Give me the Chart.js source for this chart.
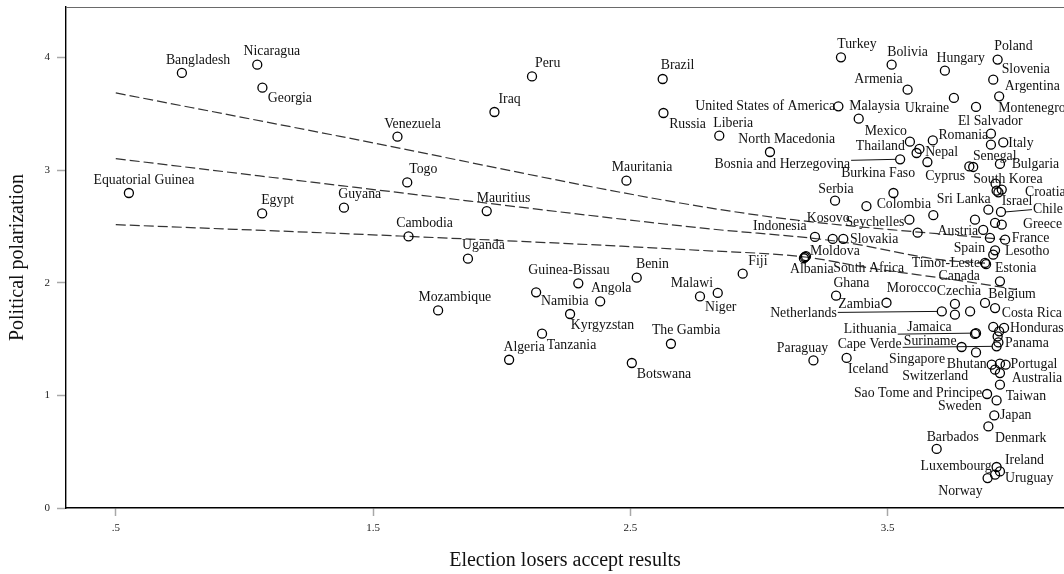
<!DOCTYPE html>
<html><head><meta charset="utf-8">
<script src="https://cdn.jsdelivr.net/npm/chart.js@4.4.1/dist/chart.umd.min.js"></script>
<style>html,body{margin:0;padding:0;background:#fff;overflow:hidden}#wrap{width:1064px;height:574px}canvas{display:block}</style>
</head><body><div id="wrap"><canvas id="c" width="1064" height="574"></canvas></div>
<script>
const countries = ['Bangladesh','Nicaragua','Georgia','Equatorial Guinea','Egypt','Guyana','Peru','Brazil','Iraq','Russia',
'Venezuela','Togo','Mauritania','Mauritius','Cambodia','Uganda','Benin','Guinea-Bissau','Angola','Namibia',
'Mozambique','Kyrgyzstan','Tanzania','Algeria','The Gambia','Botswana','Malawi','Niger','Fiji','Turkey',
'Bolivia','Hungary','Poland','Slovenia','Armenia','Argentina','Ukraine','Montenegro','United States of America','Malaysia',
'Liberia','North Macedonia','Bosnia and Herzegovina','Mexico','Thailand','Nepal','Romania','Burkina Faso','Cyprus','Senegal',
'El Salvador','','Italy','Bulgaria','South Korea','','Croatia','','Serbia','',
'Colombia','Sri Lanka','Israel','Chile','','','Greece','Seychelles','','Austria',
'','France','Indonesia','Kosovo','Slovakia','Spain','Lesotho','Moldova','Albania','South Africa',
'Timor-Leste','Estonia','Canada','Ghana','Zambia','Netherlands','Morocco','','Czechia','Belgium',
'Costa Rica','','Honduras','','','Lithuania','Jamaica','Panama','Cape Verde','Suriname',
'Singapore','Paraguay','Iceland','Bhutan','','Portugal','Switzerland','Australia','Taiwan','Sao Tome and Principe',
'Sweden','Japan','Denmark','Barbados','Luxembourg','Ireland','Uruguay','Norway'];

const acceptResults = [0.757,1.050,1.070,0.551,1.069,1.387,2.118,2.626,1.972,2.629,
1.595,1.633,2.485,1.942,1.638,1.869,2.525,2.298,2.383,2.134,
1.753,2.266,2.157,2.029,2.658,2.506,2.771,2.840,2.937,3.319,
3.516,3.723,3.928,3.911,3.578,3.934,3.758,3.844,3.309,3.388,
2.846,3.043,3.549,3.587,3.613,3.624,3.676,3.655,3.818,3.833,
3.902,3.902,3.950,3.937,3.920,3.924,3.944,3.931,3.296,3.523,
3.418,3.678,3.892,3.941,3.840,3.918,3.944,3.585,3.617,3.872,
3.898,3.957,3.218,3.287,3.328,3.918,3.911,3.179,3.175,3.183,
3.879,3.883,3.937,3.300,3.496,3.711,3.762,3.762,3.821,3.879,
3.918,3.911,3.953,3.934,3.928,3.844,3.840,3.931,3.924,3.788,
3.844,3.212,3.341,3.905,3.937,3.959,3.918,3.937,3.937,3.887,
3.924,3.915,3.892,3.691,3.924,3.937,3.918,3.889];

const polarization = [3.862,3.935,3.731,2.796,2.615,2.666,3.831,3.808,3.515,3.506,
3.296,2.890,2.905,2.636,2.411,2.213,2.044,1.994,1.834,1.914,
1.754,1.722,1.547,1.316,1.458,1.287,1.878,1.909,2.080,4.000,
3.935,3.882,3.980,3.802,3.713,3.654,3.640,3.560,3.565,3.456,
3.305,3.160,3.095,3.252,3.151,3.187,3.263,3.071,3.032,3.027,
3.323,3.225,3.245,3.054,2.879,2.817,2.826,2.802,2.728,2.796,
2.679,2.599,2.648,2.628,2.559,2.530,2.515,2.559,2.444,2.468,
2.397,2.382,2.406,2.388,2.388,2.287,2.249,2.228,2.217,2.235,
2.175,2.164,2.012,1.885,1.822,1.745,1.811,1.716,1.745,1.820,
1.775,1.607,1.598,1.568,1.523,1.552,1.545,1.470,1.435,1.429,
1.381,1.310,1.332,1.272,1.281,1.272,1.228,1.198,1.095,1.012,
0.955,0.822,0.724,0.524,0.364,0.325,0.296,0.266];

const xTickValues = [0.5,1.5,2.5,3.5];
const xTickLabels = ['.5','1.5','2.5','3.5'];
const yTickValues = [0,1,2,3,4];

const upperFitX = [0.5,1.372,2.694,3.133,3.957];
const upperFitY = [3.684,3.299,2.707,2.559,2.382];
const middleFitX = [0.5,1.450,2.773,3.315,3.704,3.879];
const middleFitY = [3.101,2.841,2.486,2.364,2.204,2.173];
const lowerFitX = [0.5,1.637,2.771,3.179,3.432,3.782,4.003];
const lowerFitY = [2.515,2.411,2.287,2.228,2.130,2.018,1.938];

// label placement: [dx px, dy px, anchor ('l' left edge / 'r' right edge), leader]
const labelPlacement = {
'Bangladesh':[-16,-13,'l'],'Nicaragua':[-13.7,-13.3,'l'],'Georgia':[5.4,11,'l'],'Equatorial Guinea':[-35.4,-13,'l'],
'Egypt':[-1,-12.7,'l'],'Guyana':[-5.7,-13,'l'],'Peru':[3,-13.4,'l'],'Brazil':[-2,-13.3,'l'],'Iraq':[4,-13,'l'],
'Russia':[5.7,11.7,'l'],'Venezuela':[-13.3,-12.7,'l'],'Togo':[2,-13.4,'l'],'Mauritania':[-14.6,-13.3,'l'],
'Mauritius':[-10,-13,'l'],'Cambodia':[-12.3,-13.4,'l'],'Uganda':[-6,-13,'l'],'Benin':[-0.7,-13,'l'],
'Guinea-Bissau':[-50,-13,'l'],'Angola':[-9.3,-13.4,'l'],'Namibia':[5,9.3,'l'],'Mozambique':[-19.7,-13.4,'l'],
'Kyrgyzstan':[0.7,11.7,'l'],'Tanzania':[4.7,12,'l'],'Algeria':[-5.7,-12.7,'l'],'The Gambia':[-19,-13,'l'],
'Botswana':[5,11.7,'l'],'Malawi':[13,-13.4,'r'],'Niger':[-12.7,14.4,'l'],'Fiji':[5.6,-12.3,'l'],
'Turkey':[-3.7,-12.7,'l'],'Bolivia':[-4.4,-12.7,'l'],'Hungary':[-8.3,-12,'l'],'Poland':[-3.4,-13,'l'],
'Slovenia':[8.4,-10,'l'],'Armenia':[-5,-10,'r'],'Argentina':[5.7,-10,'l'],'Ukraine':[-4.7,10.7,'r'],
'Montenegro':[22.3,1,'l'],'United States of America':[-3.3,0,'r'],'Malaysia':[-9.4,-12.3,'l'],
'Liberia':[-6,-12.7,'l'],'North Macedonia':[-31.7,-13,'l'],'Bosnia and Herzegovina':[-50,5.3,'r','L'],
'Mexico':[-3,-10.3,'r'],'Thailand':[-11.7,-6.6,'r'],'Nepal':[5.7,3.4,'l'],'Romania':[5.6,-4.7,'l'],
'Burkina Faso':[-12.3,11,'r'],'Cyprus':[-4.3,10,'r'],'Senegal':[-0.3,-10.6,'l'],'El Salvador':[-33,-12.3,'l'],
'Italy':[5,0.6,'l'],'Bulgaria':[11.7,0,'l'],'South Korea':[-22.4,-4,'l'],'Croatia':[23.3,2.7,'l'],
'Serbia':[-16.7,-11.7,'l'],'Colombia':[10.2,-1.5,'l'],'Sri Lanka':[3.4,-16.2,'l'],'Israel':[13.4,-8.3,'l'],
'Chile':[32,-2.3,'l','R'],'Greece':[21.3,0,'l'],'Seychelles':[-5,3,'r'],'Austria':[-5,1,'r'],'France':[6.7,-1.7,'l'],
'Indonesia':[-8.3,-10.6,'r'],'Kosovo':[-26,-21,'l'],'Slovakia':[6.7,0,'l'],'Spain':[-10,-2.4,'r'],
'Lesotho':[11.7,-3.3,'l'],'Moldova':[5,-5.6,'l'],'Albania':[-14,10.8,'l'],'South Africa':[27.3,11.8,'l'],
'Timor-Leste':[-5,0,'r'],'Estonia':[9,3.8,'l'],'Canada':[-20,-5,'r'],'Ghana':[-2.7,-12.7,'l'],'Zambia':[-6,2,'r'],
'Netherlands':[-105,1.6,'r','L'],'Morocco':[-18.3,-16,'r'],'Czechia':[-33.3,-20,'l'],'Belgium':[3.3,-8.3,'l'],
'Costa Rica':[6.7,5,'l'],'Honduras':[6,0,'l'],'Lithuania':[-79.3,-4.2,'r','L'],'Jamaica':[-23.3,-7,'r'],
'Panama':[6.7,0.6,'l'],'Cape Verde':[-95,-1.7,'r','L'],'Suriname':[-5,-5.6,'r'],'Singapore':[-31,6.6,'r'],
'Paraguay':[-36.6,-12.4,'l'],'Iceland':[1.3,11.7,'l'],'Bhutan':[-5,0,'r'],'Portugal':[5,0,'l'],
'Switzerland':[-27,6.7,'r'],'Australia':[11.7,5,'l'],'Taiwan':[5.7,11.7,'l'],'Sao Tome and Principe':[-5,-1,'r'],
'Sweden':[-15,6,'r'],'Japan':[5.7,0.3,'l'],'Denmark':[6.7,11.6,'l'],'Barbados':[-10,-12,'l'],
'Luxembourg':[-5,-0.6,'r'],'Ireland':[5,-11,'l'],'Uruguay':[10,4,'l'],'Norway':[-49.4,13.4,'l']
};

const SERIF = '"Liberation Serif", "Times New Roman", serif';
const pts = countries.map((c,i)=>({x:acceptResults[i], y:polarization[i]}));
const mk = (xs,ys)=>xs.map((x,i)=>({x, y:ys[i]}));

const labelPlugin = {
  id:'countryLabels',
  afterDatasetsDraw(chart){
    const meta = chart.getDatasetMeta(0);
    const ctx = chart.ctx;
    ctx.save();
    ctx.font = '13.8px ' + SERIF;
    ctx.fillStyle = '#111';
    ctx.strokeStyle = '#111';
    ctx.lineWidth = 1;
    ctx.textBaseline = 'middle';
    meta.data.forEach((el,i)=>{
      const name = countries[i];
      const p = labelPlacement[name];
      if(!name || !p) return;
      const [dx,dy,anchor,lead] = p;
      const tx = el.x+dx, ty = el.y+dy;
      ctx.textAlign = anchor==='r' ? 'right' : 'left';
      ctx.fillText(name, tx, ty);
      if(lead==='L'){
        ctx.beginPath(); ctx.moveTo(tx+1, el.y+1); ctx.lineTo(el.x-4.5, el.y); ctx.stroke();
      } else if(lead==='R'){
        ctx.beginPath(); ctx.moveTo(el.x+4.5, el.y); ctx.lineTo(tx-1, ty); ctx.stroke();
      }
    });
    ctx.restore();
  }
};

const framePlugin = {
  id:'frameTop',
  afterDraw(chart){
    const {ctx, chartArea:a} = chart;
    ctx.save();
    ctx.strokeStyle = '#6a6a6a'; ctx.lineWidth = 1.2;
    ctx.beginPath(); ctx.moveTo(a.left, a.top+0.5); ctx.lineTo(a.right, a.top+0.5); ctx.stroke();
    ctx.restore();
  }
};

const noPad = s => { s.paddingTop = 0; s.paddingBottom = 0; s.paddingLeft = 0; s.paddingRight = 0; };

const fitStyle = {showLine:true, pointRadius:0, borderColor:'#333', borderWidth:1.2, borderDash:[10,4],
  tension:0.4, cubicInterpolationMode:'monotone', fill:false};

new Chart(document.getElementById('c'), {
  type:'scatter',
  data:{datasets:[
    {label:'Countries', data:pts, pointRadius:4.5, pointHoverRadius:4.5, borderColor:'#000', borderWidth:1.3,
     backgroundColor:'rgba(0,0,0,0)', pointStyle:'circle'},
    Object.assign({label:'Upper fit', data:mk(upperFitX, upperFitY)}, fitStyle),
    Object.assign({label:'Middle fit', data:mk(middleFitX, middleFitY)}, fitStyle),
    Object.assign({label:'Lower fit', data:mk(lowerFitX, lowerFitY)}, fitStyle)
  ]},
  options:{
    responsive:false, animation:false, devicePixelRatio:1,
    layout:{autoPadding:false, padding:{top:7,right:0,left:0,bottom:0}},
    plugins:{legend:{display:false}, tooltip:{enabled:false}},
    scales:{
      x:{type:'linear', min:0.3065, max:4.186,
        afterBuildTicks:s=>{ s.ticks = xTickValues.map(v=>({value:v})); },
        afterFit:s=>{ s.height = 66; noPad(s); },
        grid:{display:true, drawOnChartArea:false, drawTicks:true, tickLength:8, tickColor:'#a8a8a8', tickWidth:1.5},
        border:{display:true, color:'#000', width:1.5},
        ticks:{autoSkip:false, maxRotation:0, padding:6, color:'#222', font:{family:SERIF, size:11},
          callback:v=>xTickLabels[xTickValues.indexOf(v)]},
        title:{display:true, text:'Election losers accept results', color:'#111',
          font:{family:SERIF, size:20}, padding:{top:0,bottom:1}}
      },
      y:{type:'linear', min:0, max:4.447,
        afterBuildTicks:s=>{ s.ticks = yTickValues.map(v=>({value:v})); },
        afterFit:s=>{ s.width = 66; noPad(s); },
        grid:{display:true, drawOnChartArea:false, drawTicks:true, tickLength:9, tickColor:'#a8a8a8', tickWidth:1.5},
        border:{display:true, color:'#000', width:1.4},
        ticks:{padding:7, color:'#222', font:{family:SERIF, size:11}, callback:v=>String(v)},
        title:{display:true, text:'Political polarization', color:'#111',
          font:{family:SERIF, size:20}, padding:{top:6,bottom:0}}
      }
    }
  },
  plugins:[labelPlugin, framePlugin]
});
</script>
</body></html>
